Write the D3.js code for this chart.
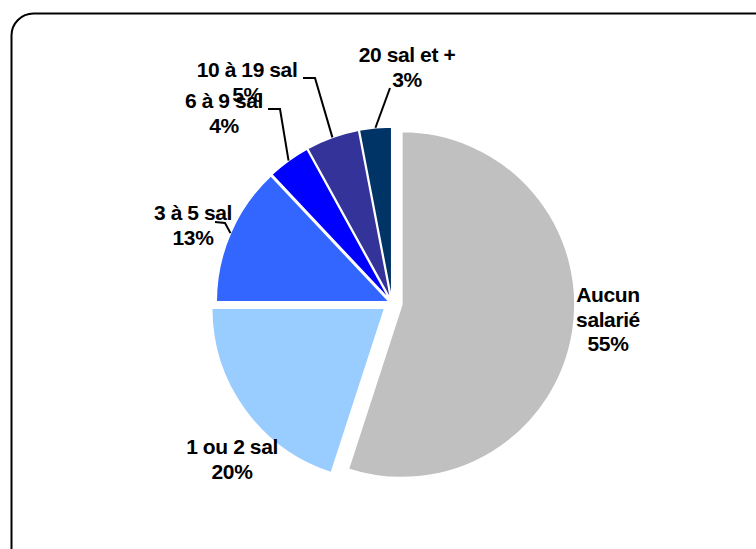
<!DOCTYPE html>
<meta charset="utf-8">
<html>
<style>
body { margin: 0; background: #fff; }
svg text {
  font-family: "Liberation Sans", Arial, sans-serif;
  font-weight: bold;
  font-size: 21px;
  letter-spacing: -0.4px;
  fill: #000;
}
.leader { fill: none; stroke: #000; stroke-width: 2px; }
</style>
<svg width="756" height="549"></svg>
<script src="https://d3js.org/d3.v7.min.js"></script>
<script>
// categories, values (percent) and slice colours, clockwise from 12 o'clock
var categories = ["Aucun salarié", "1 ou 2 sal", "3 à 5 sal", "6 à 9 sal", "10 à 19 sal", "20 sal et +"];
var values = [55, 20, 13, 4, 5, 3];
var colors = ["#c0c0c0", "#99ccff", "#3366ff", "#0000ff", "#333399", "#003366"];
// label text lines (name split as in the picture)
var labelLines = [["Aucun", "salarié"], ["1 ou 2 sal"], ["3 à 5 sal"], ["6 à 9 sal"], ["10 à 19 sal"], ["20 sal et +"]];

var svg = d3.select("svg"),
    width = +svg.attr("width"),
    height = +svg.attr("height");

// frame with rounded corner, runs off the right and bottom edges
svg.append("rect")
    .attr("x", 11.5).attr("y", 13.5)
    .attr("width", 770).attr("height", 560)
    .attr("rx", 22)
    .attr("fill", "none").attr("stroke", "#000").attr("stroke-width", 2);

var cx = 392, cy = 303, R = 173;
// how far each slice is pulled out from the centre
var explode = [10, 9, 3, 3, 3, 3];

var data = categories.map(function(c, i) { return {name: c, value: values[i], i: i}; });

var pie = d3.pie().sort(null).value(function(d) { return d.value; });
var arc = d3.arc().innerRadius(0).outerRadius(R);
var arcs = pie(data);

function mid(a) { return (a.startAngle + a.endAngle) / 2; }
function offset(a) {
  var m = mid(a), d = explode[a.data.i];
  return [d * Math.sin(m), -d * Math.cos(m)];
}

var g = svg.append("g").attr("transform", "translate(" + cx + "," + cy + ")");

g.selectAll("path")
    .data(arcs)
    .enter().append("path")
      .attr("d", arc)
      .attr("transform", function(d) { var o = offset(d); return "translate(" + o[0] + "," + o[1] + ")"; })
      .attr("fill", function(d) { return colors[d.data.i]; })
      .attr("stroke", "#fff")
      .attr("stroke-width", 1.5)
      .attr("stroke-linejoin", "round");

// label layout: text centre x, first baseline y, and the elbow of the leader line (if any)
var labelPos = [
  {x: 608, y: 302, elbow: null},
  {x: 232, y: 454, elbow: null},
  {x: 193, y: 220, elbow: [[215, 222], [225, 223]]},
  {x: 224, y: 108, elbow: [[268, 109], [280, 109]]},
  {x: 247, y: 77, elbow: [[303, 78], [315, 78]]},
  {x: 407, y: 62, elbow: [[390, 88]]}
];

var line = d3.line();

arcs.forEach(function(a) {
  var i = a.data.i, p = labelPos[i];
  var lines = labelLines[i].concat([values[i] + "%"]);
  var t = svg.append("text").attr("text-anchor", "middle");
  lines.forEach(function(s, k) {
    t.append("tspan").attr("x", p.x).attr("y", p.y + k * 24.5).text(s);
  });
  if (p.elbow) {
    var m = mid(a), o = offset(a);
    var edge = [cx + o[0] + R * Math.sin(m), cy + o[1] - R * Math.cos(m)];
    svg.append("path").attr("class", "leader")
        .attr("d", line(p.elbow.concat([edge])));
  }
});
</script>
</html>
